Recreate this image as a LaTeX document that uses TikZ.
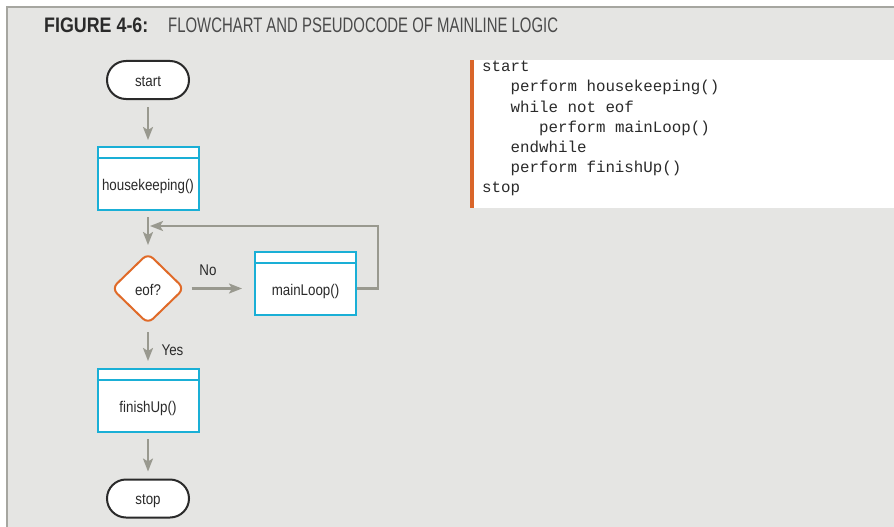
\documentclass[tikz,border=0pt]{standalone}
\usepackage{fontspec}
\usetikzlibrary{arrows.meta,shapes.geometric}
\setmainfont{Liberation Sans}
\newfontfamily\nodefont[FakeStretch=0.86]{Liberation Sans}
\newfontfamily\titleboldfont[FakeStretch=0.85]{Liberation Sans Bold}
\newfontfamily\titlelightfont[FakeStretch=0.71]{Liberation Sans}
\newfontfamily\codefont{Liberation Mono}
\definecolor{bggray}{HTML}{E5E5E3}
\definecolor{bordergray}{HTML}{A6A6A0}
\definecolor{arrowgray}{HTML}{99998F}
\definecolor{boxcyan}{HTML}{1AAFD6}
\definecolor{decorange}{HTML}{E06A28}
\definecolor{barorange}{HTML}{D9652A}
\definecolor{inkdark}{HTML}{2A2A2A}
\definecolor{inklight}{HTML}{4A4A4A}
\tikzset{
  terminal/.style={draw=inkdark, line width=2pt, fill=white, rounded corners=19pt,
    minimum width=82pt, minimum height=38pt, inner sep=0pt},
  pbox/.style={draw=boxcyan, line width=2pt, fill=white,
    minimum width=101pt, minimum height=63pt, inner sep=0pt},
  decision/.style={diamond, draw=decorange, line width=2pt, fill=white, rounded corners=7pt,
    minimum width=73pt, minimum height=71pt, inner sep=0pt},
  ntext/.style={font=\nodefont\fontsize{15.5}{18}\selectfont, text=inkdark, anchor=base, inner sep=0pt},
  codeline/.style={font=\codefont\fontsize{15.8}{19}\selectfont, text=inkdark, anchor=base west, inner sep=0pt},
  arr/.style={draw=arrowgray, line width=2.2pt, -{Stealth[length=13pt,width=10pt,inset=3pt]}},
}
\begin{document}
\begin{tikzpicture}[x=1pt,y=-1pt]
\useasboundingbox (0,0) rectangle (894,527);
% frame
\fill[bggray] (7,7) rectangle (894,527);
\draw[bordergray, line width=2pt] (7,527) -- (7,7) -- (894,7);
% title
\node[anchor=base west, inner sep=0pt, text=inkdark, font=\titleboldfont\fontsize{21}{24}\selectfont] (tb) at (44,33) {FIGURE 4-6:};
\node[anchor=base west, inner sep=0pt, text=inklight, font=\titlelightfont\fontsize{21}{24}\selectfont] (tl) at (168,33) {FLOWCHART AND PSEUDOCODE OF MAINLINE LOGIC};
% pseudocode panel
\fill[white] (472,60) rectangle (894,208);
\fill[barorange] (470,60) rectangle (474,208);
\node[codeline] (c1) at (482,72) {start};
\node[codeline] (c2) at (510.5,92) {perform housekeeping()};
\node[codeline] (c3) at (510.5,112) {while not eof};
\node[codeline] (c4) at (539,132) {perform mainLoop()};
\node[codeline] (c5) at (510.5,152) {endwhile};
\node[codeline] (c6) at (510.5,172) {perform finishUp()};
\node[codeline] (c7) at (482,192) {stop};
% flowchart nodes
\node[terminal] (start) at (148,80) {};
\node[ntext] (startt) at (148,86) {start};
\node[pbox] (hk) at (148,178.5) {};
\draw[boxcyan, line width=2pt] ([yshift=-12pt]hk.north west) -- ([yshift=-12pt]hk.north east);
\node[ntext] (hkt) at (148,190) {housekeeping()};
\node[decision] (eof) at (148,288.5) {};
\node[ntext] (eoft) at (148,295) {eof?};
\node[pbox] (ml) at (305.5,283.5) {};
\draw[boxcyan, line width=2pt] ([yshift=-12pt]ml.north west) -- ([yshift=-12pt]ml.north east);
\node[ntext] (mlt) at (305.5,295) {mainLoop()};
\node[pbox] (fu) at (148,400.5) {};
\draw[boxcyan, line width=2pt] ([yshift=-12pt]fu.north west) -- ([yshift=-12pt]fu.north east);
\node[ntext] (fut) at (148,412) {finishUp()};
\node[terminal] (stop) at (148,498.5) {};
\node[ntext] (stopt) at (148,504.5) {stop};
% connectors
\draw[arr, shorten <=7pt, shorten >=6pt] (start) -- (hk);
\draw[arr, shorten <=6pt, shorten >=7pt] (hk) -- (eof);
\draw[arr, shorten <=6pt, shorten >=12pt] (eof.east) -- (eof.east -| ml.west);
\node[ntext] (no) at (208,275) {No};
\coordinate (looptip) at (150,226);
\draw[arr] (ml.east |- eof.east) -- (378,288.5) |- (looptip);
\draw[arr, shorten <=7pt, shorten >=7pt] (eof) -- (fu);
\node[ntext] (yes) at (172.5,355) {Yes};
\draw[arr, shorten <=6pt, shorten >=7pt] (fu) -- (stop);
\end{tikzpicture}
\end{document}
